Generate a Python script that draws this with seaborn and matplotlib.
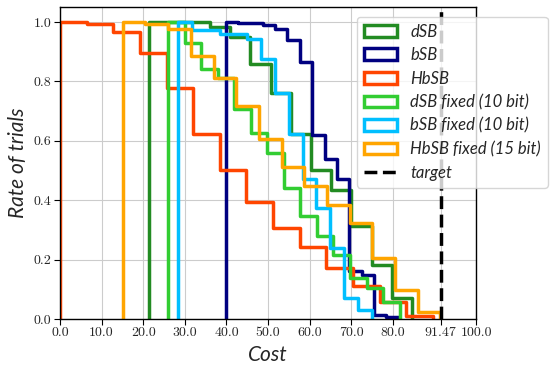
import numpy as np
import pandas as pd
import seaborn as sns
import matplotlib.pyplot as plt
from matplotlib.patches import Patch
from matplotlib.lines import Line2D

# Survival-style step curves: (first bin edge, last bin edge) and rate per bin
labels = ["dSB", "bSB", "HbSB", "dSB fixed (10 bit)", "bSB fixed (10 bit)", "HbSB fixed (15 bit)"]
colors = ["forestgreen", "navy", "orangered", "limegreen", "deepskyblue", "orange"]

dsb_range = (21.5, 84.55)
dsb_rate = [1.0, 1.0, 1.0, 0.982, 0.948, 0.86, 0.762, 0.622, 0.503, 0.436, 0.312, 0.182, 0.07]

bsb_range = (39.8, 81.4)
bsb_rate = [1.0, 0.997, 0.997, 0.99, 0.975, 0.94, 0.864, 0.62, 0.537, 0.47, 0.16, 0.149, 0.012, 0.006]

hbsb_range = (0.0, 89.6)
hbsb_rate = [1.0, 0.993, 0.965, 0.894, 0.779, 0.622, 0.503, 0.394, 0.305, 0.241, 0.171, 0.111, 0.058, 0.011]

dsb_fixed_range = (26.0, 81.6)
dsb_fixed_rate = [1.0, 0.93, 0.843, 0.813, 0.706, 0.627, 0.56, 0.442, 0.346, 0.278, 0.216, 0.137, 0.104, 0.058]

bsb_fixed_range = (28.4, 74.9)
bsb_fixed_rate = [1.0, 0.972, 0.972, 0.959, 0.959, 0.943, 0.875, 0.762, 0.622, 0.47, 0.374, 0.239, 0.07, 0.03]

hbsb_fixed_range = (15.1, 91.4)
hbsb_fixed_rate = [1.0, 0.993, 0.976, 0.886, 0.813, 0.717, 0.605, 0.512, 0.447, 0.385, 0.323, 0.205, 0.098, 0.025]

target = 91.47
xticks = [0, 10, 20, 30, 40, 50, 60, 70, 80, target, 100]
xtick_labels = ["0.0", "10.0", "20.0", "30.0", "40.0", "50.0", "60.0", "70.0", "80.0", "91.47", "100.0"]
yticks = [0.0, 0.2, 0.4, 0.6, 0.8, 1.0]

ranges = [dsb_range, bsb_range, hbsb_range, dsb_fixed_range, bsb_fixed_range, hbsb_fixed_range]
rates = [dsb_rate, bsb_rate, hbsb_rate, dsb_fixed_rate, bsb_fixed_rate, hbsb_fixed_rate]

sns.set_style("whitegrid", {"axes.edgecolor": "black", "grid.color": "#cccccc",
                            "xtick.bottom": True, "ytick.left": True})

fig, ax = plt.subplots(figsize=(5.55, 3.74), dpi=100)
fig.subplots_adjust(left=0.108, right=0.858, bottom=0.147, top=0.981)

for (lo, hi), rate, c in zip(ranges, rates, colors):
    edges = np.linspace(lo, hi, len(rate) + 1)
    xs = [edges[0]] + list(edges[:-1]) + [edges[-1]]
    ys = [0.0] + list(rate) + [0.0]
    df = pd.DataFrame({"cost": xs, "rate": ys})
    sns.lineplot(data=df, x="cost", y="rate", drawstyle="steps-post", estimator=None,
                 sort=False, color=c, lw=2.5, ax=ax)

ax.axvline(target, color="black", ls="--", lw=2.5)

ax.set_xlim(0, 100)
ax.set_ylim(0, 1.05)
ax.set_xticks(xticks)
ax.set_xticklabels(xtick_labels, fontfamily="cmr10", fontsize=10)
ax.set_yticks(yticks)
ax.set_yticklabels([f"{v:.1f}" for v in yticks], fontfamily="cmr10", fontsize=10)
ax.tick_params(length=4, width=0.8, color="black", pad=2)
for s in ax.spines.values():
    s.set_linewidth(1.0)

ax.set_xlabel("Cost", fontsize=15, fontstyle="italic", fontfamily="Lato")
ax.set_ylabel("Rate of trials", fontsize=15, fontstyle="italic", fontfamily="Lato")

handles = [Patch(facecolor="none", edgecolor=c, lw=2.5, label=l) for c, l in zip(colors, labels)]
handles.append(Line2D([], [], color="black", ls="--", lw=2.5, label="target"))
ax.legend(handles=handles, loc="upper left", bbox_to_anchor=(357 / 555, 1 - 17 / 374),
          bbox_transform=fig.transFigure, borderaxespad=0, labelspacing=0.45,
          prop={"family": "Lato", "style": "italic", "size": 12}, framealpha=0.8)

fig.savefig("out.png", dpi=100)
